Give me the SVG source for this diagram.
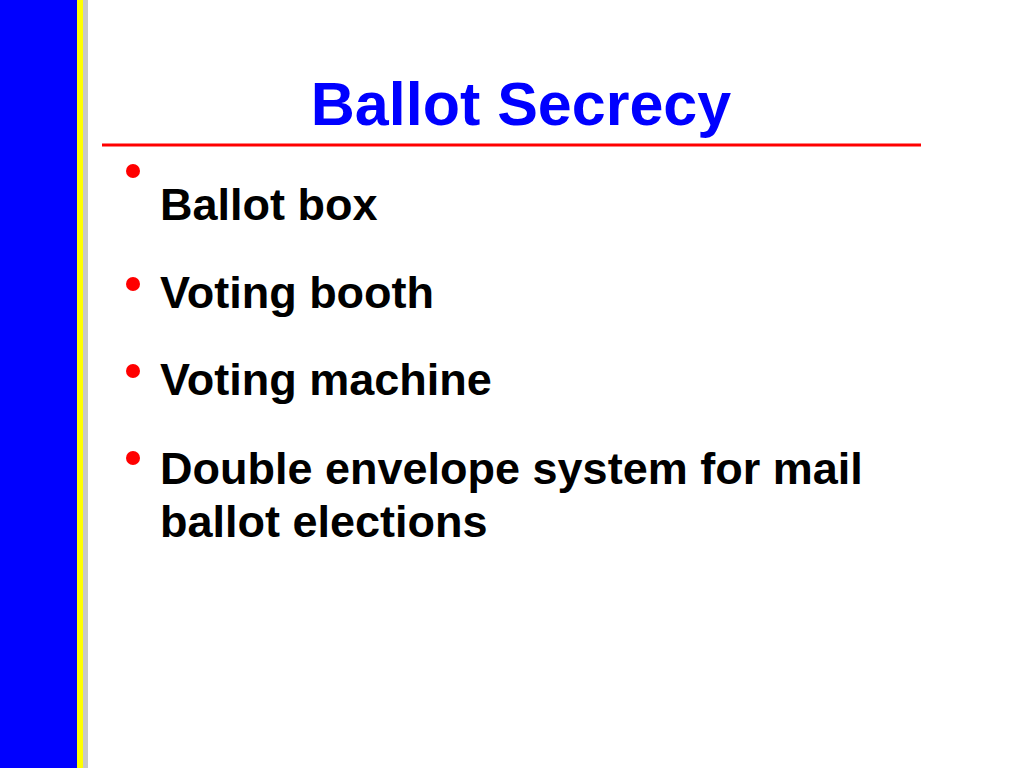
<svg xmlns="http://www.w3.org/2000/svg" width="1024" height="768" viewBox="0 0 1024 768">
<style>.b{font-family:"Liberation Sans",Arial,sans-serif;font-weight:bold;font-size:45px;fill:#000}.d{fill:#ff0000}</style>
<rect width="1024" height="768" fill="#fff"/>
<rect x="0" y="0" width="77" height="768" fill="#0000ff"/>
<rect x="77" y="0" width="6" height="768" fill="#ffff00"/>
<rect x="83" y="0" width="5" height="768" fill="#b0b0b0" opacity="0.7"/>
<text x="521" y="125" text-anchor="middle" font-family="Liberation Sans,Arial,sans-serif" font-weight="bold" font-size="61" fill="#0000ff">Ballot Secrecy</text>
<line x1="102" y1="145" x2="921" y2="145" stroke="#ff0000" stroke-width="3"/>
<circle class="d" cx="133" cy="171" r="7"/>
<circle class="d" cx="133" cy="284" r="7"/>
<circle class="d" cx="133" cy="371" r="7"/>
<circle class="d" cx="133" cy="458" r="7"/>
<text class="b" x="160" y="220">Ballot box</text>
<text class="b" x="160" y="308">Voting booth</text>
<text class="b" x="160" y="395">Voting machine</text>
<text class="b" x="160" y="484">Double envelope system for mail</text>
<text class="b" x="160" y="537">ballot elections</text>
</svg>
